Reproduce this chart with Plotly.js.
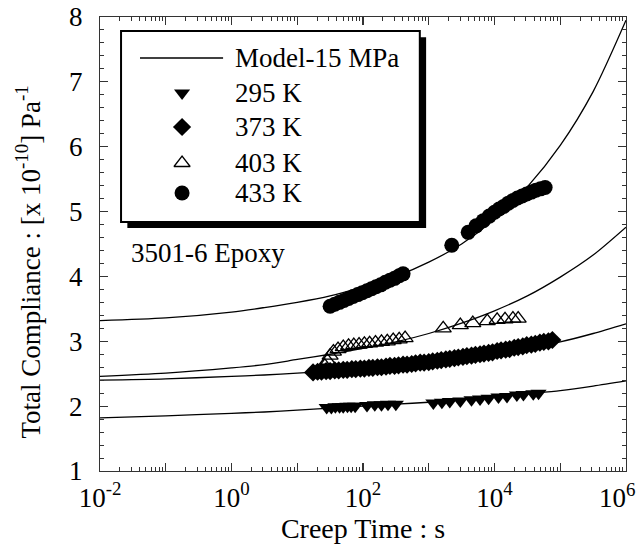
<!DOCTYPE html>
<html><head><meta charset="utf-8">
<script src="https://cdn.plot.ly/plotly-3.0.1.min.js"></script>
<style>html,body{margin:0;padding:0;background:#fff}#chart{width:638px;height:550px}</style>
</head><body><div id="chart"></div>
<script>
// ---- Model curves (Model-15 MPa), creep time in s ----
const modelTime = [0.01, 0.1, 1, 3.16, 10, 31.6, 100, 316, 1000, 3162, 10000, 31623, 100000, 316228, 1000000];
const model433 = [3.32, 3.36, 3.45, 3.52, 3.60, 3.70, 3.84, 4.00, 4.22, 4.50, 4.88, 5.38, 6.02, 6.85, 7.95];
const model403 = [2.46, 2.51, 2.59, 2.64, 2.72, 2.80, 2.89, 2.99, 3.12, 3.28, 3.47, 3.70, 3.99, 4.33, 4.76];
const model373 = [2.40, 2.42, 2.46, 2.48, 2.51, 2.54, 2.58, 2.62, 2.67, 2.73, 2.80, 2.89, 2.99, 3.12, 3.27];
const model295 = [1.82, 1.85, 1.89, 1.91, 1.94, 1.97, 2.00, 2.03, 2.06, 2.10, 2.14, 2.19, 2.24, 2.31, 2.39];

// ---- Measured data ----
const t295 = [28, 33, 38, 44, 50, 58, 66, 76, 115, 151, 191, 240, 316,
  1175, 1585, 2089, 3020, 4467, 6026, 8128, 11482, 15488, 21878, 27542, 38905, 46774];
const j295 = [1.98, 1.98, 1.99, 1.99, 1.99, 2.00, 2.00, 2.00, 2.01, 2.02, 2.02, 2.03, 2.03,
  2.05, 2.06, 2.07, 2.08, 2.10, 2.11, 2.12, 2.14, 2.15, 2.17, 2.18, 2.19, 2.20];

const t373 = [17.4, 20.4, 23.4, 27.5, 31.6, 37.2, 42.7, 50.1, 57.5, 67.6, 77.6, 91.2, 105, 123, 141, 166, 191, 224, 257, 302,
  347, 407, 468, 550, 631, 741, 851, 1000, 1148, 1349, 1549, 1820, 2089, 2455, 2818, 3311, 3802, 4467, 5129, 6026,
  6918, 8128, 9333, 10965, 12589, 14791, 16982, 19953, 22909, 26915, 30903, 36308, 41687, 48978, 56234, 66069, 75858];
const j373 = [2.52, 2.53, 2.53, 2.54, 2.54, 2.55, 2.55, 2.56, 2.56, 2.57, 2.57, 2.58, 2.58, 2.59, 2.59, 2.60, 2.60, 2.61, 2.62, 2.62,
  2.63, 2.64, 2.64, 2.65, 2.66, 2.67, 2.67, 2.68, 2.69, 2.70, 2.71, 2.72, 2.73, 2.74, 2.75, 2.76, 2.77, 2.78, 2.79, 2.80,
  2.81, 2.82, 2.83, 2.85, 2.86, 2.87, 2.88, 2.90, 2.91, 2.92, 2.94, 2.95, 2.96, 2.98, 2.99, 3.00, 3.02];

const t403 = [26.3, 28.8, 31.6, 35.5, 41.7, 50.1, 60.3, 72.4, 87.1, 105, 126, 155, 191, 234, 288, 355, 437,
  1660, 3020, 4677, 7762, 10965, 14454, 19055, 22909];
const j403 = [2.62, 2.70, 2.78, 2.84, 2.88, 2.91, 2.93, 2.94, 2.95, 2.96, 2.97, 2.98, 2.99, 3.00, 3.02, 3.03, 3.05,
  3.20, 3.25, 3.28, 3.31, 3.33, 3.34, 3.35, 3.35];

const t433 = [31.6, 37.2, 43.7, 51.3, 60.3, 70.8, 83.2, 97.7, 115, 135, 158, 186, 219, 257, 302, 355, 407,
  2239,
  3981, 5248, 6761, 8318, 10000, 11749, 13804, 16218, 19055, 22387, 26303, 30903, 36308, 42658, 50119, 58884];
const j433 = [3.54, 3.57, 3.60, 3.63, 3.66, 3.69, 3.72, 3.75, 3.78, 3.81, 3.84, 3.87, 3.91, 3.94, 3.97, 4.01, 4.04,
  4.48,
  4.68, 4.78, 4.86, 4.93, 4.99, 5.04, 5.08, 5.13, 5.17, 5.21, 5.24, 5.27, 5.30, 5.33, 5.35, 5.37];

// ---- Labels ----
const seriesNames = ['Model-15 MPa', '295 K', '373 K', '403 K', '433 K'];
const xTickVals = [0.01, 0.1, 1, 10, 100, 1000, 10000, 100000, 1000000];
const xTickText = ['10<sup>-2</sup>', '', '10<sup>0</sup>', '', '10<sup>2</sup>', '', '10<sup>4</sup>', '', ''];
const xLastTickText = '10<sup>6</sup>';
const yTickVals = [1, 2, 3, 4, 5, 6, 7, 8];
const yTickText = ['1', '2', '3', '4', '5', '6', '7', '8'];
const xTitle = 'Creep Time : s';
const yTitle = 'Total Compliance : [x 10<sup>-10</sup>] Pa<sup>-1</sup>';
const noteText = '3501-6 Epoxy';

// ---- styling / layout ----
const FONT = 'Liberation Serif, Times New Roman, serif';
const INK = '#000';
const TICKSIZE = 27;
const lineStyle = {color: INK, width: 1.3};

const xMinor = [];
for (let e = -2; e < 6; e++) for (let m = 2; m <= 9; m++) xMinor.push(m * Math.pow(10, e));
const yMinor = [];
for (let v = 1; v < 8; v += 1) for (let k = 1; k <= 4; k++) yMinor.push(+(v + k * 0.2).toFixed(1));

const markers = {
  '295 K': {symbol: 'triangle-down', size: 14, color: INK, line: {width: 0}},
  '373 K': {symbol: 'diamond', size: 14, color: INK, line: {width: 0}},
  '403 K': {symbol: 'triangle-up-open', size: 14, color: INK, line: {width: 1.3, color: INK}},
  '433 K': {symbol: 'circle', size: 15, color: INK, line: {width: 0}}
};

const traces = [];
[model295, model373, model403, model433].forEach(function (m) {
  traces.push({x: modelTime, y: m, mode: 'lines', line: Object.assign({shape: 'spline', smoothing: 0.8}, lineStyle),
    name: seriesNames[0], showlegend: false, hoverinfo: 'skip'});
});
[[t295, j295, '295 K'], [t373, j373, '373 K'], [t403, j403, '403 K'], [t433, j433, '433 K']].forEach(function (s) {
  traces.push({x: s[0], y: s[1], mode: 'markers', marker: markers[s[2]], name: s[2], showlegend: false, cliponaxis: false});
});

// legend (drawn manually on an overlay 0..1 axis pair)
const L = {left: 0.040, right: 0.608, top: 0.969, bottom: 0.5485, shadow: 0.012, shadowY: 0.0135,
  lineX0: 0.076, lineX1: 0.234, symX: 0.156, textX: 0.253,
  rows: [0.9097, 0.8326, 0.7577, 0.6784, 0.6123]};
['295 K', '373 K', '403 K', '433 K'].forEach(function (n, i) {
  traces.push({x: [L.symX], y: [L.rows[i + 1]], xaxis: 'x2', yaxis: 'y2', mode: 'markers',
    marker: markers[n], showlegend: false, hoverinfo: 'skip', cliponaxis: false});
});

const annotations = seriesNames.map(function (n, i) {
  return {xref: 'paper', yref: 'paper', x: L.textX, y: L.rows[i], xanchor: 'left', yanchor: 'middle',
    text: n, showarrow: false, font: {family: FONT, size: 27, color: INK}};
});
annotations.push({xref: 'paper', yref: 'paper', x: 0.056, y: 0.480, xanchor: 'left', yanchor: 'middle',
  text: noteText, showarrow: false, font: {family: FONT, size: 27, color: INK}});
// y-axis title (placed as the reference shows it, slightly below centre)
annotations.push({xref: 'paper', yref: 'paper', x: -0.136, y: 0.46, xanchor: 'center', yanchor: 'middle',
  textangle: -90, text: yTitle, showarrow: false, font: {family: FONT, size: 27, color: INK}});
// last x tick label, kept inside the picture edge like the reference
annotations.push({xref: 'paper', yref: 'paper', x: 1.0215, y: -0.0135, xanchor: 'right', yanchor: 'top',
  text: xLastTickText, showarrow: false, font: {family: FONT, size: TICKSIZE, color: INK}});

const shapes = [
  {type: 'rect', xref: 'paper', yref: 'paper', layer: 'below', x0: L.left + L.shadow, x1: L.right + L.shadow,
    y0: L.bottom - L.shadowY, y1: L.top - L.shadowY, fillcolor: INK, line: {width: 0}},
  {type: 'rect', xref: 'paper', yref: 'paper', layer: 'below', x0: L.left, x1: L.right, y0: L.bottom, y1: L.top,
    fillcolor: '#fff', line: {color: INK, width: 2}},
  {type: 'line', xref: 'paper', yref: 'paper', layer: 'above', x0: L.lineX0, x1: L.lineX1, y0: L.rows[0], y1: L.rows[0],
    line: lineStyle}
];

const axisCommon = {showgrid: false, zeroline: false, showline: true, linecolor: '#333', linewidth: 1.2,
  mirror: 'allticks', ticks: 'inside', tickcolor: '#333', tickwidth: 1.1, ticklen: 8,
  tickfont: {family: FONT, size: TICKSIZE, color: INK}};

const layout = {
  width: 638, height: 550,
  margin: {l: 100, r: 12, t: 17, b: 79, autoexpand: false},
  paper_bgcolor: '#fff', plot_bgcolor: '#fff',
  font: {family: FONT, color: INK},
  showlegend: false,
  xaxis: Object.assign({}, axisCommon, {
    type: 'log', range: [-2, 6], tickmode: 'array', tickvals: xTickVals, ticktext: xTickText,
    ticklabelstandoff: 2,
    minor: {tickmode: 'array', tickvals: xMinor, ticks: 'inside', ticklen: 4, tickcolor: '#333', tickwidth: 1},
    title: {text: xTitle, font: {family: FONT, size: 28, color: INK}, standoff: 2}
  }),
  yaxis: Object.assign({}, axisCommon, {
    range: [1, 8], tickmode: 'array', tickvals: yTickVals, ticktext: yTickText,
    ticklabelstandoff: 11,
    minor: {tickmode: 'array', tickvals: yMinor, ticks: 'inside', ticklen: 4, tickcolor: '#333', tickwidth: 1}
  }),
  xaxis2: {overlaying: 'x', range: [0, 1], visible: false, fixedrange: true},
  yaxis2: {overlaying: 'y', range: [0, 1], visible: false, fixedrange: true},
  shapes: shapes,
  annotations: annotations
};

Plotly.newPlot('chart', traces, layout, {staticPlot: true, displayModeBar: false});
</script>
</body></html>
